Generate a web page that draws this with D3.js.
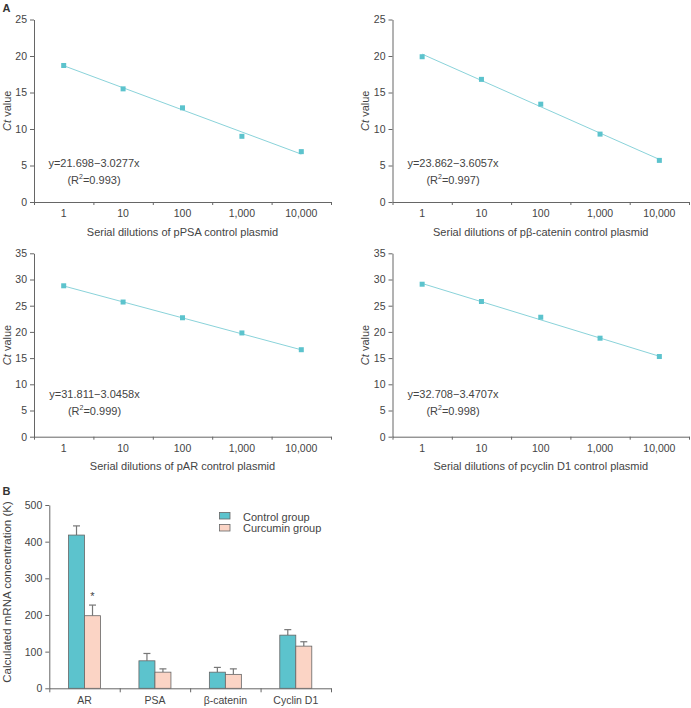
<!DOCTYPE html>
<html>
<head>
<meta charset="utf-8">
<script src="https://cdn.jsdelivr.net/npm/d3@7"></script>
<style>
  html, body { margin: 0; padding: 0; background: #fff; }
  svg { display: block; font-family: "Liberation Sans", Arial, Helvetica, sans-serif; }
  .axis path, .axis line { stroke: #666; }
  .axis text { fill: #444; font-size: 10.5px; font-family: "Liberation Sans", Arial, sans-serif; }
</style>
</head>
<body>
<svg id="chart" width="691" height="708"></svg>
<script>
// ---------- Data ----------
const dilutions = ["1", "10", "100", "1,000", "10,000"];
// Ct values
const ctPSA = [18.7, 15.5, 12.9, 9.0, 6.9];
const ctBcat = [19.9, 16.8, 13.4, 9.3, 5.7];
const ctAR = [28.8, 25.7, 22.7, 19.8, 16.6];
const ctCyclin = [29.1, 25.8, 22.8, 18.8, 15.3];
// Regression coefficients (y = a - b x) and R^2 as printed
const intercepts = [21.698, 23.862, 31.811, 32.708];
const slopes = [3.0277, 3.6057, 3.0458, 3.4707];
const rSquared = ["0.993", "0.997", "0.999", "0.998"];
const plasmidNames = ["pPSA", "pβ-catenin", "pAR", "pcyclin D1"];
const yTicksTop = [0, 5, 10, 15, 20, 25];
const yTicksMid = [0, 5, 10, 15, 20, 25, 30, 35];

// Panel B
const genes = ["AR", "PSA", "β-catenin", "Cyclin D1"];
const groups = ["Control group", "Curcumin group"];
const controlMean = [418, 75, 44, 145];
const controlErr = [25, 20, 13, 15];
const curcuminMean = [198, 44, 38, 115];
const curcuminErr = [29, 9, 15, 12];
const barTicks = [0, 100, 200, 300, 400, 500];

// ---------- Styling / layout ----------
const TEAL = "#5cc3cd";
const LINE_TEAL = "#8ad3da";
const PEACH = "#fbd4c5";
const TEXT = "#444";

const svg = d3.select("#chart");

const seriesList = [ctPSA, ctBcat, ctAR, ctCyclin];
const panelLayout = [
  { x0: 34, x1: 331, yTop: 19.5, yBot: 202, yMax: 25, ticks: yTicksTop, eqX: 94, eqY: 167, eqY2: 183.5, ylabX: 10.5 },
  { x0: 392.5, x1: 689, yTop: 19.5, yBot: 202, yMax: 25, ticks: yTicksTop, eqX: 453, eqY: 167, eqY2: 183.5, ylabX: 369 },
  { x0: 34, x1: 331, yTop: 253.3, yBot: 436.7, yMax: 35, ticks: yTicksMid, eqX: 94.5, eqY: 398, eqY2: 414.5, ylabX: 10.5 },
  { x0: 392.5, x1: 689, yTop: 253.3, yBot: 436.7, yMax: 35, ticks: yTicksMid, eqX: 453, eqY: 398, eqY2: 414.5, ylabX: 369 }
];

panelLayout.forEach((L, k) => {
  const data = seriesList[k];
  const g = svg.append("g");
  const xBand = d3.scaleBand().domain(dilutions).range([L.x0, L.x1]);
  const xEdge = d3.scaleLinear().domain([0, dilutions.length]).range([L.x0, L.x1]);
  const y = d3.scaleLinear().domain([0, L.yMax]).range([L.yBot, L.yTop]);
  const cx = i => xBand(dilutions[i]) + xBand.bandwidth() / 2;

  // y axis
  g.append("g").attr("class", "axis")
    .attr("transform", `translate(${L.x0},0)`)
    .call(d3.axisLeft(y).tickValues(L.ticks).tickSize(4).tickSizeOuter(0).tickPadding(3));

  // x axis: ticks at band edges
  g.append("g").attr("class", "axis")
    .attr("transform", `translate(0,${L.yBot})`)
    .call(d3.axisBottom(xEdge).tickValues(d3.range(dilutions.length + 1)).tickFormat("").tickSize(3).tickSizeOuter(0));
  // x labels at band centres
  const xl = g.append("g").attr("class", "axis")
    .attr("transform", `translate(0,${L.yBot})`)
    .call(d3.axisBottom(xBand).tickSize(0).tickPadding(8));
  xl.select(".domain").remove();

  // axis titles
  g.append("text")
    .attr("x", (L.x0 + L.x1) / 2).attr("y", L.yBot + 33.5)
    .attr("text-anchor", "middle").attr("font-size", 11).attr("fill", TEXT)
    .text(`Serial dilutions of ${plasmidNames[k]} control plasmid`);
  const yt = g.append("text")
    .attr("transform", `translate(${L.ylabX},${(L.yTop + L.yBot) / 2}) rotate(-90)`)
    .attr("text-anchor", "middle").attr("font-size", 11).attr("fill", TEXT);
  yt.append("tspan").attr("font-style", "italic").text("Ct");
  yt.append("tspan").text(" value");

  // regression line
  const fit = d3.range(dilutions.length).map(i => ({ i, v: intercepts[k] - slopes[k] * (i + 1) }));
  g.append("path")
    .datum(fit)
    .attr("fill", "none").attr("stroke", LINE_TEAL).attr("stroke-width", 1)
    .attr("d", d3.line().x(d => cx(d.i)).y(d => y(d.v)));

  // points
  g.selectAll("rect.pt").data(data).enter().append("rect")
    .attr("class", "pt")
    .attr("x", (d, i) => cx(i) - 2.5).attr("y", d => y(d) - 2.5)
    .attr("width", 5).attr("height", 5)
    .attr("fill", TEAL);

  // equation
  g.append("text")
    .attr("x", L.eqX).attr("y", L.eqY)
    .attr("text-anchor", "middle").attr("font-size", 11).attr("fill", TEXT)
    .text(`y=${intercepts[k].toFixed(3)}\u2212${slopes[k].toFixed(4)}x`);
  const r = g.append("text")
    .attr("x", L.eqX).attr("y", L.eqY2)
    .attr("text-anchor", "middle").attr("font-size", 11).attr("fill", TEXT);
  r.append("tspan").text("(R");
  r.append("tspan").attr("font-size", 7).attr("dy", -4.5).text("2");
  r.append("tspan").attr("dy", 4.5).text(`=${rSquared[k]})`);
});

// Panel letters
svg.append("text").attr("x", 2.5).attr("y", 11.5).attr("font-size", 11).attr("font-weight", "bold").attr("fill", "#333").text("A");
svg.append("text").attr("x", 2.5).attr("y", 494.5).attr("font-size", 11).attr("font-weight", "bold").attr("fill", "#333").text("B");

// ---------- Panel B: bar chart ----------
(function () {
  const x0 = 49.3, x1 = 331, yTop = 505, yBot = 688.3;
  const g = svg.append("g");
  const x = d3.scaleBand().domain(genes).range([x0, x1]);
  const xEdge = d3.scaleLinear().domain([0, genes.length]).range([x0, x1]);
  const xs = d3.scaleBand().domain(groups).range([0, 32]);
  const y = d3.scaleLinear().domain([0, 500]).range([yBot, yTop]);

  g.append("g").attr("class", "axis")
    .attr("transform", `translate(${x0},0)`)
    .call(d3.axisLeft(y).tickValues(barTicks).tickSize(4).tickSizeOuter(0).tickPadding(3));
  g.append("g").attr("class", "axis")
    .attr("transform", `translate(0,${yBot})`)
    .call(d3.axisBottom(xEdge).tickValues(d3.range(genes.length + 1)).tickFormat("").tickSize(4).tickSizeOuter(0));
  const xl = g.append("g").attr("class", "axis")
    .attr("transform", `translate(0,${yBot})`)
    .call(d3.axisBottom(x).tickSize(0).tickPadding(8.5));
  xl.select(".domain").remove();
  xl.selectAll("text").attr("font-size", 11);

  g.append("text")
    .attr("transform", `translate(10.5,592) rotate(-90)`)
    .attr("text-anchor", "middle").attr("font-size", 11.5).attr("fill", TEXT)
    .text("Calculated mRNA concentration (K)");

  const rows = genes.map((gname, i) => [
    { gene: gname, grp: groups[0], mean: controlMean[i], err: controlErr[i], color: TEAL },
    { gene: gname, grp: groups[1], mean: curcuminMean[i], err: curcuminErr[i], color: PEACH }
  ]).flat();

  const bx = d => x(d.gene) + x.bandwidth() / 2 - 16 + xs(d.grp);

  // error bars (upper only)
  rows.forEach(d => {
    const c = bx(d) + xs.bandwidth() / 2;
    g.append("line").attr("x1", c).attr("x2", c)
      .attr("y1", y(d.mean)).attr("y2", y(d.mean + d.err))
      .attr("stroke", "#777").attr("stroke-width", 1.2);
    g.append("line").attr("x1", c - 3.5).attr("x2", c + 3.5)
      .attr("y1", y(d.mean + d.err)).attr("y2", y(d.mean + d.err))
      .attr("stroke", "#777").attr("stroke-width", 1.2);
  });

  g.selectAll("rect.bar").data(rows).enter().append("rect")
    .attr("class", "bar")
    .attr("x", d => bx(d)).attr("y", d => y(d.mean))
    .attr("width", xs.bandwidth()).attr("height", d => yBot - y(d.mean))
    .attr("fill", d => d.color).attr("stroke", "#666").attr("stroke-width", 0.8);

  // significance star on AR curcumin
  const ar = rows[1];
  g.append("text")
    .attr("x", bx(ar) + xs.bandwidth() / 2).attr("y", y(ar.mean + ar.err) - 5)
    .attr("text-anchor", "middle").attr("font-size", 11).attr("fill", TEXT).text("*");

  // legend
  const lg = g.append("g");
  groups.forEach((name, i) => {
    lg.append("rect").attr("x", 219.5).attr("y", 512.5 + i * 12)
      .attr("width", 10.5).attr("height", 6.5)
      .attr("fill", i === 0 ? TEAL : PEACH).attr("stroke", "#666").attr("stroke-width", 0.8);
    lg.append("text").attr("x", 243).attr("y", 520.5 + i * 11.3)
      .attr("font-size", 11).attr("fill", TEXT).text(name);
  });
})();
</script>
</body>
</html>
